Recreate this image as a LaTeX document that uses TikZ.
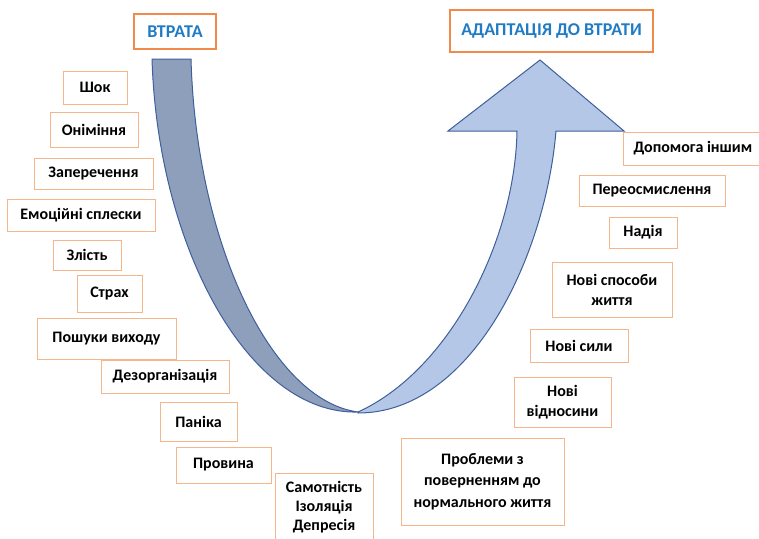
\documentclass[tikz,border=0pt]{standalone}
\usepackage{fontspec}
\setmainfont{Carlito}
\definecolor{boxorange}{HTML}{F6B68C}
\definecolor{titleorange}{HTML}{F0894A}
\definecolor{titleblue}{HTML}{1F7BC4}
\definecolor{bandedge}{HTML}{3F5F9C}
\definecolor{darkband}{HTML}{8E9FBC}
\definecolor{lightband}{HTML}{B4C7E7}
\tikzset{
	stagestyle/.style={rectangle,draw=boxorange,line width=1pt,fill=white,font=\bfseries\fontsize{16}{20}\selectfont,align=center,inner sep=0pt},
	titlestyle/.style={rectangle,draw=titleorange,line width=1.5pt,fill=white,text=titleblue,font=\bfseries\fontsize{18}{20}\selectfont,inner sep=0pt},
	darkbandstyle/.style={draw=bandedge,line width=1pt,fill=darkband,line join=round},
	lightbandstyle/.style={draw=bandedge,line width=1pt,fill=lightband,line join=miter}
}
\begin{document}
\begin{tikzpicture}[x=1pt,y=-1pt]
		\useasboundingbox (0,0) rectangle (759,538);
		% descending band
		\draw[darkbandstyle] (152,59) -- (191,59)
			.. controls (196,240) and (270,400) .. (358,412)
			.. controls (250,415) and (158,250) .. (152,59) -- cycle;
		% rising arrow
		\draw[lightbandstyle] (358,413)
			.. controls (470,413) and (545,260) .. (556,131)
			-- (624,131) -- (540,60) -- (448,131) -- (517,131)
			.. controls (515,240) and (450,370) .. (358,412) -- cycle;
		% titles
		\node[titlestyle,minimum width=82,minimum height=35] (loss) at (175,31.5) {ВТРАТА};
		\node[titlestyle,minimum width=203,minimum height=42] (adapt) at (551.5,31) {АДАПТАЦІЯ ДО ВТРАТИ};
		% stages of loss
		\node[stagestyle,minimum width=64,minimum height=33] (shock) at (95,87.5) {Шок};
		\node[stagestyle,minimum width=88,minimum height=35] (numb) at (94,129.5) {Оніміння};
		\node[stagestyle,minimum width=119,minimum height=31] (denial) at (93.5,173.5) {Заперечення};
		\node[stagestyle,minimum width=148,minimum height=32] (outburst) at (81,215) {Емоційні сплески};
		\node[stagestyle,minimum width=68,minimum height=30] (anger) at (87,255) {Злість};
		\node[stagestyle,minimum width=65,minimum height=37] (fear) at (109.5,293.5) {Страх};
		\node[stagestyle,minimum width=139,minimum height=41] (search) at (106.5,338.5) {Пошуки виходу};
		\node[stagestyle,minimum width=128,minimum height=33] (disorg) at (165,376.5) {Дезорганізація};
		\node[stagestyle,minimum width=77,minimum height=39] (panic) at (198.5,421.5) {Паніка};
		\node[stagestyle,minimum width=95,minimum height=36] (guilt) at (223.5,465) {Провина};
		\node[stagestyle,minimum width=98,inner ysep=8pt,text depth=20pt,anchor=north,font=\bfseries\fontsize{16}{19}\selectfont] (lonely) at (324,473) {Самотність\\Ізоляція\\Депресія};
		% stages of adaptation
		\node[stagestyle,minimum height=33,inner xsep=10pt,anchor=west] (help) at (623,148.5) {Допомога іншим\hspace{2pt}};
		\node[stagestyle,minimum width=146,minimum height=31] (rethink) at (652,190.5) {Переосмислення};
		\node[stagestyle,minimum width=68,minimum height=31] (hope) at (643,232.5) {Надія};
		\node[stagestyle,minimum width=120,minimum height=55] (newways) at (612,289.5) {Нові способи\\життя};
		\node[stagestyle,minimum width=98,minimum height=33] (newforce) at (579,345.5) {Нові сили};
		\node[stagestyle,minimum width=97,minimum height=50] (newrel) at (562.5,402) {Нові\\відносини};
		\node[stagestyle,minimum width=163,minimum height=87,font=\bfseries\fontsize{16}{21.5}\selectfont] (problems) at (482.5,481.5) {Проблеми з\\поверненням до\\нормального життя};
\end{tikzpicture}
\end{document}
